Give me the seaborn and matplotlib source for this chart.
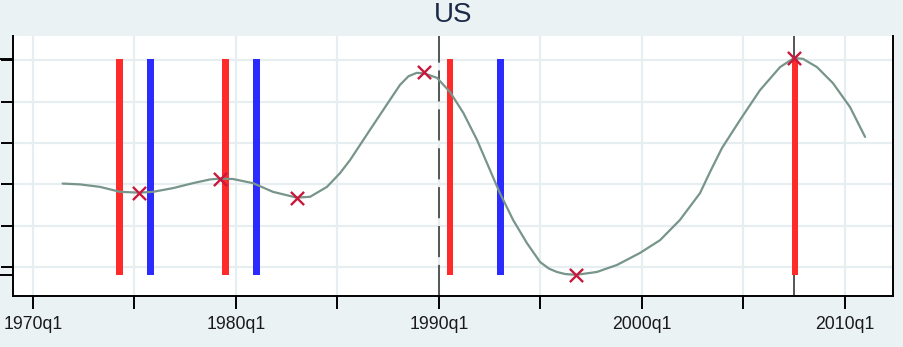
import matplotlib
matplotlib.use("Agg")
import matplotlib.pyplot as plt
import pandas as pd
import seaborn as sns

# Smoothed cycle series (decimal years, index units)
line_years = [1971.46, 1972.32, 1973.30, 1974.29, 1975.24, 1975.91, 1976.90, 1977.88,
              1978.72, 1979.21, 1979.85, 1980.84, 1981.82, 1982.99, 1983.65, 1984.48,
              1985.12, 1985.62, 1986.60, 1987.59, 1988.08, 1988.50, 1988.90, 1989.26,
              1989.90, 1990.54, 1991.20, 1991.87, 1993.00, 1993.65, 1994.33, 1994.98,
              1995.42, 1995.81, 1996.21, 1996.75, 1997.78, 1998.77, 1999.90, 2000.89,
              2001.87, 2002.86, 2003.35, 2003.94, 2004.83, 2005.81, 2006.80, 2007.49,
              2007.93, 2008.62, 2009.41, 2010.25, 2010.99]
line_values = [0.02, 0.00, -0.06, -0.18, -0.20, -0.18, -0.09, 0.03,
               0.12, 0.14, 0.13, 0.03, -0.18, -0.32, -0.30, -0.06,
               0.27, 0.59, 1.32, 2.05, 2.41, 2.62, 2.70, 2.69,
               2.58, 2.24, 1.73, 1.08, -0.21, -0.86, -1.42, -1.88,
               -2.04, -2.12, -2.17, -2.19, -2.12, -1.95, -1.66, -1.35,
               -0.86, -0.21, 0.30, 0.88, 1.56, 2.28, 2.84, 3.06,
               3.04, 2.84, 2.45, 1.87, 1.15]

# Turning points of the cycle
turn_years = [1975.24, 1979.21, 1982.99, 1989.28, 1996.75, 2007.49]
turn_values = [-0.20, 0.14, -0.32, 2.71, -2.19, 3.06]

# Event spikes (height 1 on the left scale)
red_years = [1974.26, 1979.50, 1990.54, 2007.54]
red_heights = [1, 1, 1, 1]
blue_years = [1975.78, 1981.00, 1993.04]
blue_heights = [1, 1, 1]

# Reference dates
ref_years = [1990.0, 2007.5]

# Axis ticks
x_ticks = [1970, 1975, 1980, 1985, 1990, 1995, 2000, 2005, 2010]
x_labels = ["1970q1", "", "1980q1", "", "1990q1", "", "2000q1", "", "2010q1"]
right_ticks = [-2, -1, 0, 1, 2, 3]
left_ticks = [0, 1]

BG = "#EAF2F3"
GRID = "#E6EEF1"
LINE = "#77958A"
MARK = "#C8193C"
RED = "#FF2B2B"
BLUE = "#2B2BFF"

sns.set_theme(style="white")
plt.rcParams["font.family"] = ["Liberation Sans", "DejaVu Sans"]

fig = plt.figure(figsize=(9.04, 3.47), dpi=100, facecolor=BG)
pos = [13 / 904, 51 / 347, 880 / 904, 260 / 347]

# Base axes: grid, reference lines, right-hand ticks, date axis
ax = fig.add_axes(pos)
ax.set_facecolor("white")
ax.set_xlim(1969.015, 2012.365)
ax.set_ylim(-2.702, 3.593)
ax.set_xticks(x_ticks)
ax.set_xticklabels(x_labels)
ax.set_yticks(right_ticks)
ax.yaxis.tick_right()
ax.tick_params(axis="x", bottom=True, direction="out", length=9.4, width=1.4,
               color="black", labelsize=12.7, pad=5, labelcolor="#1a1a1a")
ax.tick_params(axis="y", right=True, left=False, direction="out", length=8.6,
               width=1.4, color="black", labelright=False, labelleft=False)
ax.grid(True, color=GRID, lw=1.6)
ax.set_axisbelow(True)
for side in ["left", "bottom", "right"]:
    ax.spines[side].set_visible(True)
    ax.spines[side].set_color("black")
    ax.spines[side].set_linewidth(1.4)
ax.spines["top"].set_visible(False)
for yr in ref_years:
    ax.axvline(yr, color="#555555", lw=1.4, ls=(0, (16, 4)), zorder=2)

# Spike axes on the left scale
axb = ax.twinx()
axb.set_ylim(-0.097, 1.104)
axb.yaxis.tick_left()
axb.set_yticks(left_ticks)
axb.tick_params(axis="y", left=True, right=False, direction="out", length=9.4,
                width=1.4, color="black", labelleft=False, labelright=False)
for s in axb.spines.values():
    s.set_visible(False)
axb.bar(red_years, red_heights, width=0.33, color=RED, edgecolor="none", zorder=3)
axb.bar(blue_years, blue_heights, width=0.33, color=BLUE, edgecolor="none", zorder=3)

# Top axes: cycle line and turning points
axl = fig.add_axes(pos, sharex=ax, sharey=ax)
axl.patch.set_visible(False)
axl.axis("off")
df_line = pd.DataFrame({"year": line_years, "value": line_values})
df_turn = pd.DataFrame({"year": turn_years, "value": turn_values})
sns.lineplot(data=df_line, x="year", y="value", ax=axl, color=LINE, lw=1.6)
sns.scatterplot(data=df_turn, x="year", y="value", ax=axl, marker="x", color=MARK,
                s=90, linewidth=1.7, zorder=5)

fig.text((13 + 893) / 2 / 904, (347 - 15) / 347, "US", ha="center", va="center",
         fontsize=20, color="#1C2A48")

fig.savefig("out.png", dpi=100, facecolor=BG)
